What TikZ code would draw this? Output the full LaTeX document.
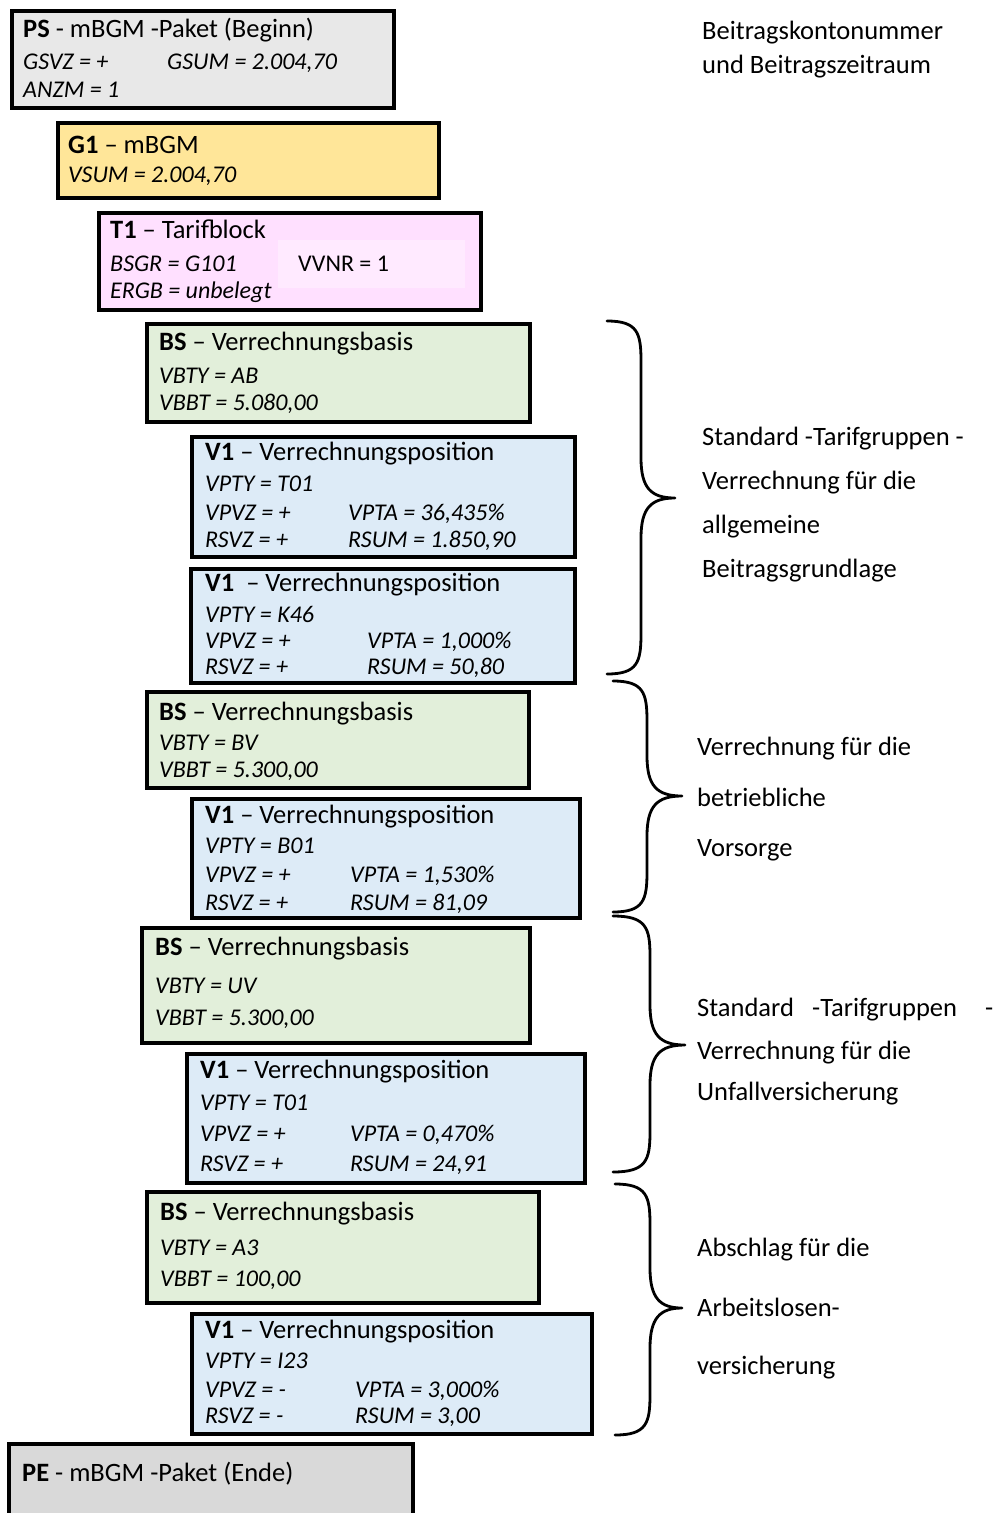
\documentclass[tikz,border=0pt]{standalone}
\usepackage{fontspec}
\setmainfont{Carlito}
\definecolor{psgray}{RGB}{232,232,232}
\definecolor{pegray}{RGB}{217,217,217}
\definecolor{gyellow}{RGB}{255,230,153}
\definecolor{tpink}{RGB}{255,224,255}
\definecolor{tpinklight}{RGB}{255,234,255}
\definecolor{bsgreen}{RGB}{226,239,218}
\definecolor{vblue}{RGB}{221,235,247}
\begin{document}
\begin{tikzpicture}[x=1pt,y=-1pt]
\tikzset{
  box/.style={draw=black, line width=4pt, inner sep=0pt, anchor=north west},
  hd/.style={anchor=base west, inner sep=0pt, font=\fontsize{26.5}{30}\selectfont},
  itl/.style={anchor=base west, inner sep=0pt, font=\fontsize{24}{28}\selectfont\itshape},
  upl/.style={anchor=base west, inner sep=0pt, font=\fontsize{24}{28}\selectfont},
  lbl/.style={anchor=base west, inner sep=0pt, font=\fontsize{26.5}{30}\selectfont},
  bracestyle/.style={draw=black, line width=2.8pt, line cap=round, line join=round}
}
\useasboundingbox (0,0) rectangle (995,1513);

% ---------- boxes ----------
\node[box, fill=psgray, minimum width=382pt, minimum height=97pt] (ps) at (10,9) {};
\node[box, fill=gyellow, minimum width=381pt, minimum height=75pt] (g1) at (56,121) {};
\node[box, fill=tpink, minimum width=382pt, minimum height=97pt] (t1) at (97,211) {};
\node[fill=tpinklight, inner sep=0pt, anchor=north west, minimum width=187pt, minimum height=48pt] (t1inner) at (278,240) {};
\node[box, fill=bsgreen, minimum width=383pt, minimum height=98pt] (bs1) at (145,322) {};
\node[box, fill=vblue, minimum width=383pt, minimum height=120pt] (v1a) at (190,435) {};
\node[box, fill=vblue, minimum width=384pt, minimum height=114pt] (v1b) at (189,567) {};
\node[box, fill=bsgreen, minimum width=382pt, minimum height=96pt] (bs2) at (145,690) {};
\node[box, fill=vblue, minimum width=388pt, minimum height=119pt] (v1c) at (190,797) {};
\node[box, fill=bsgreen, minimum width=388pt, minimum height=115pt] (bs3) at (140,926) {};
\node[box, fill=vblue, minimum width=398pt, minimum height=129pt] (v1d) at (185,1052) {};
\node[box, fill=bsgreen, minimum width=392pt, minimum height=111pt] (bs4) at (145,1190) {};
\node[box, fill=vblue, minimum width=400pt, minimum height=120pt] (v1e) at (190,1312) {};
\node[box, fill=pegray, minimum width=404pt, minimum height=90pt] (pe) at (7,1442) {};

% ---------- PS ----------
\node[hd] (psh) at (23,37) {\textbf{PS} - mBGM -Paket (Beginn)};
\node[itl] (ps1) at (23,69) {GSVZ = +};
\node[itl] (ps2) at (167,69) {GSUM = 2.004,70};
\node[itl] (ps3) at (23,97) {ANZM = 1};

% ---------- G1 ----------
\node[hd] (g1h) at (68,153) {\textbf{G1} – mBGM};
\node[itl] (g11) at (68,182) {VSUM = 2.004,70};

% ---------- T1 ----------
\node[hd] (t1h) at (110,238) {\textbf{T1} – Tarifblock};
\node[itl] (t11) at (110,271) {BSGR = G101};
\node[upl] (t12) at (298,271) {VVNR = 1};
\node[itl] (t13) at (110,298) {ERGB = unbelegt};

% ---------- BS1 ----------
\node[hd] (bs1h) at (159,350) {\textbf{BS} – Verrechnungsbasis};
\node[itl] (bs11) at (159,383) {VBTY = AB};
\node[itl] (bs12) at (159,410) {VBBT = 5.080,00};

% ---------- V1a ----------
\node[hd] (v1ah) at (205,460) {\textbf{V1} – Verrechnungsposition};
\node[itl] (v1a1) at (205,491) {VPTY = T01};
\node[itl] (v1a2) at (205,520) {VPVZ = +};
\node[itl] (v1a3) at (348,520) {VPTA = 36,435\%};
\node[itl] (v1a4) at (205,547) {RSVZ = +};
\node[itl] (v1a5) at (348,547) {RSUM = 1.850,90};

% ---------- V1b ----------
\node[hd] (v1bh) at (205,591) {\textbf{V1}\ \ – Verrechnungsposition};
\node[itl] (v1b1) at (205,622) {VPTY = K46};
\node[itl] (v1b2) at (205,648) {VPVZ = +};
\node[itl] (v1b3) at (367,648) {VPTA = 1,000\%};
\node[itl] (v1b4) at (205,674) {RSVZ = +};
\node[itl] (v1b5) at (367,674) {RSUM = 50,80};

% ---------- BS2 ----------
\node[hd] (bs2h) at (159,720) {\textbf{BS} – Verrechnungsbasis};
\node[itl] (bs21) at (159,750) {VBTY = BV};
\node[itl] (bs22) at (159,777) {VBBT = 5.300,00};

% ---------- V1c ----------
\node[hd] (v1ch) at (205,823) {\textbf{V1} – Verrechnungsposition};
\node[itl] (v1c1) at (205,853) {VPTY = B01};
\node[itl] (v1c2) at (205,882) {VPVZ = +};
\node[itl] (v1c3) at (350,882) {VPTA = 1,530\%};
\node[itl] (v1c4) at (205,910) {RSVZ = +};
\node[itl] (v1c5) at (350,910) {RSUM = 81,09};

% ---------- BS3 ----------
\node[hd] (bs3h) at (155,955) {\textbf{BS} – Verrechnungsbasis};
\node[itl] (bs31) at (155,993) {VBTY = UV};
\node[itl] (bs32) at (155,1025) {VBBT = 5.300,00};

% ---------- V1d ----------
\node[hd] (v1dh) at (200,1078) {\textbf{V1} – Verrechnungsposition};
\node[itl] (v1d1) at (200,1110) {VPTY = T01};
\node[itl] (v1d2) at (200,1141) {VPVZ = +};
\node[itl] (v1d3) at (350,1141) {VPTA = 0,470\%};
\node[itl] (v1d4) at (200,1171) {RSVZ = +};
\node[itl] (v1d5) at (350,1171) {RSUM = 24,91};

% ---------- BS4 ----------
\node[hd] (bs4h) at (160,1220) {\textbf{BS} – Verrechnungsbasis};
\node[itl] (bs41) at (160,1255) {VBTY = A3};
\node[itl] (bs42) at (160,1286) {VBBT = 100,00};

% ---------- V1e ----------
\node[hd] (v1eh) at (205,1338) {\textbf{V1} – Verrechnungsposition};
\node[itl] (v1e1) at (205,1368) {VPTY = I23};
\node[itl] (v1e2) at (205,1397) {VPVZ = -};
\node[itl] (v1e3) at (355,1397) {VPTA = 3,000\%};
\node[itl] (v1e4) at (205,1423) {RSVZ = -};
\node[itl] (v1e5) at (355,1423) {RSUM = 3,00};

% ---------- PE ----------
\node[hd] (peh) at (22,1481) {\textbf{PE} - mBGM -Paket (Ende)};

% ---------- right labels ----------
\node[lbl] (r0a) at (702,39) {Beitragskontonummer};
\node[lbl] (r0b) at (702,73) {und Beitragszeitraum};

\node[lbl] (r1a) at (702,445) {Standard -Tarifgruppen -};
\node[lbl] (r1b) at (702,489) {Verrechnung für die};
\node[lbl] (r1c) at (702,533) {allgemeine};
\node[lbl] (r1d) at (702,577) {Beitragsgrundlage};

\node[lbl] (r2a) at (697,755) {Verrechnung für die};
\node[lbl] (r2b) at (697,806) {betriebliche};
\node[lbl] (r2c) at (697,856) {Vorsorge};

\node[lbl] (r3a) at (697,1016) {Standard};
\node[lbl] (r3b) at (812,1016) {-Tarifgruppen};
\node[lbl] (r3c) at (985,1016) {-};
\node[lbl] (r3d) at (697,1059) {Verrechnung für die};
\node[lbl] (r3e) at (697,1100) {Unfallversicherung};

\node[lbl] (r4a) at (697,1256) {Abschlag für die};
\node[lbl] (r4b) at (697,1316) {Arbeitslosen-};
\node[lbl] (r4c) at (697,1374) {versicherung};

% ---------- braces ----------
% #1 left x, #2 vertical x, #3 tip x, #4 top y, #5 tip y, #6 bottom y
\newcommand\mybrace[6]{%
  \draw[bracestyle] (#1,#4) .. controls ({#1+0.9*(#2-#1)},#4) and (#2,{#4+12}) .. (#2,{#4+40})
    -- (#2,{#5-40}) .. controls (#2,{#5-10}) and ({#2+10},#5) .. (#3,#5)
    .. controls ({#2+10},#5) and (#2,{#5+10}) .. (#2,{#5+40})
    -- (#2,{#6-40}) .. controls (#2,{#6-12}) and ({#1+0.9*(#2-#1)},#6) .. (#1,#6);}
\mybrace{607}{641}{675}{321}{498}{674}
\mybrace{613}{647}{682}{681}{796}{912}
\mybrace{613}{650}{685}{916}{1045}{1172}
\mybrace{615}{650}{682}{1184}{1308}{1435}
\end{tikzpicture}
\end{document}
